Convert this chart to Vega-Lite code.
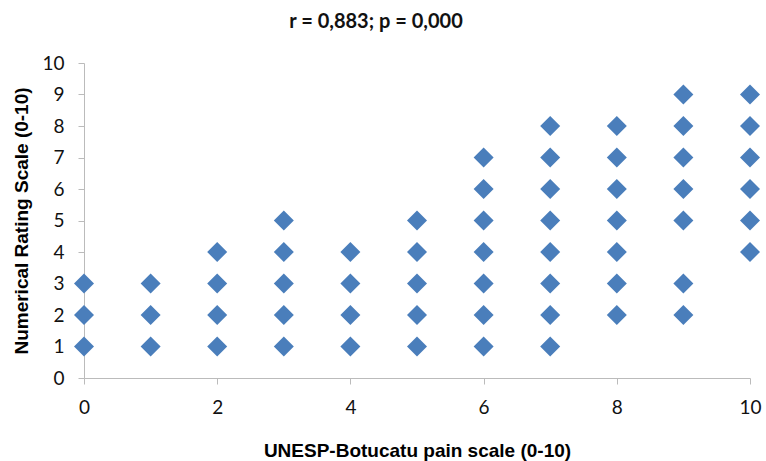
{
  "$schema": "https://vega.github.io/schema/vega-lite/v6.json",
  "width": 666,
  "height": 315,
  "autosize": {"type": "none"},
  "padding": {"left": 84, "top": 63, "right": 16, "bottom": 83},
  "background": "white",
  "title": {"text": "r = 0,883; p = 0,000", "font": "Lato", "fontWeight": "bold", "fontSize": 20, "color": "#111", "anchor": "middle", "dx": -41, "offset": 22},
  "config": {"view": {"stroke": null}},
  "data": {"values": [
    {"x":0,"y":1},{"x":0,"y":2},{"x":0,"y":3},
    {"x":1,"y":1},{"x":1,"y":2},{"x":1,"y":3},
    {"x":2,"y":1},{"x":2,"y":2},{"x":2,"y":3},{"x":2,"y":4},
    {"x":3,"y":1},{"x":3,"y":2},{"x":3,"y":3},{"x":3,"y":4},{"x":3,"y":5},
    {"x":4,"y":1},{"x":4,"y":2},{"x":4,"y":3},{"x":4,"y":4},
    {"x":5,"y":1},{"x":5,"y":2},{"x":5,"y":3},{"x":5,"y":4},{"x":5,"y":5},
    {"x":6,"y":1},{"x":6,"y":2},{"x":6,"y":3},{"x":6,"y":4},{"x":6,"y":5},{"x":6,"y":6},{"x":6,"y":7},
    {"x":7,"y":1},{"x":7,"y":2},{"x":7,"y":3},{"x":7,"y":4},{"x":7,"y":5},{"x":7,"y":6},{"x":7,"y":7},{"x":7,"y":8},
    {"x":8,"y":2},{"x":8,"y":3},{"x":8,"y":4},{"x":8,"y":5},{"x":8,"y":6},{"x":8,"y":7},{"x":8,"y":8},
    {"x":9,"y":2},{"x":9,"y":3},{"x":9,"y":5},{"x":9,"y":6},{"x":9,"y":7},{"x":9,"y":8},{"x":9,"y":9},
    {"x":10,"y":4},{"x":10,"y":5},{"x":10,"y":6},{"x":10,"y":7},{"x":10,"y":8},{"x":10,"y":9}
  ]},
  "mark": {"type": "point", "shape": "diamond", "filled": true, "size": 400, "color": "#4a7ebb", "opacity": 1},
  "encoding": {
    "x": {"field": "x", "type": "quantitative",
      "scale": {"domain": [0, 10], "nice": false, "zero": false},
      "axis": {"values": [0,2,4,6,8,10], "grid": false, "domainColor": "#bbbbbb", "tickColor": "#bbbbbb", "tickSize": 6, "labelFlush": false,
        "labelFont": "Lato", "labelFontSize": 19, "labelColor": "#111", "labelPadding": 14,
        "title": "UNESP-Botucatu pain scale (0-10)", "titleFont": "Liberation Sans", "titleFontSize": 19, "titleFontWeight": "bold", "titleColor": "#000", "titlePadding": 24}},
    "y": {"field": "y", "type": "quantitative",
      "scale": {"domain": [0, 10], "nice": false, "zero": false},
      "axis": {"values": [0,1,2,3,4,5,6,7,8,9,10], "grid": false, "domainColor": "#bbbbbb", "tickColor": "#bbbbbb", "tickSize": 6, "labelFlush": false,
        "labelFont": "Lato", "labelFontSize": 19, "labelColor": "#111", "labelPadding": 14,
        "title": "Numerical Rating Scale (0-10)", "titleFont": "Liberation Sans", "titleFontSize": 19, "titleFontWeight": "bold", "titleColor": "#000", "titlePadding": 10}}
  }
}
